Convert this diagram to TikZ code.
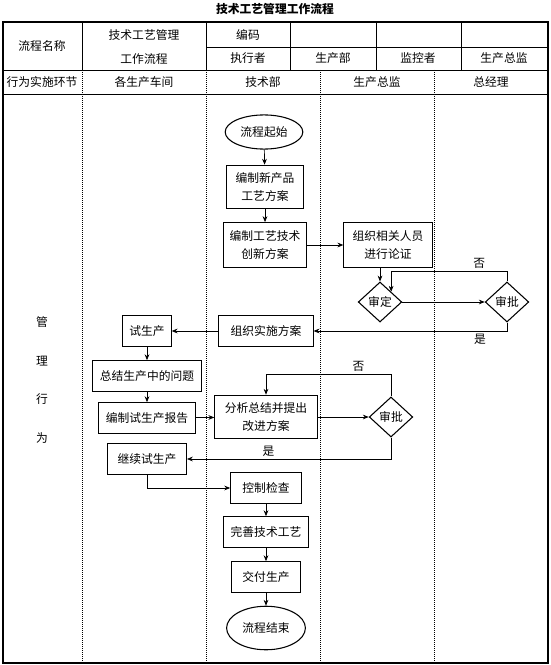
\documentclass[tikz,border=0pt]{standalone}
\usepackage{fontspec}
\setmainfont{Noto Sans CJK SC}
\usetikzlibrary{arrows.meta,shapes.geometric}

\begin{document}
\begin{tikzpicture}[
    x=0.85pt, y=-0.85pt,
    every node/.style={font=\fontsize{10}{16}\selectfont},
    proc/.style={draw, line width=0.9pt, rectangle, align=center, inner sep=2pt},
    term/.style={draw, line width=0.9pt, ellipse, align=center, inner sep=1pt},
    check/.style={draw, line width=0.9pt, diamond, align=center, inner sep=0pt, minimum width=37pt, minimum height=34pt},
    arrow/.style={-{Stealth[length=5pt,width=4pt]}, line width=0.6pt},
    lab/.style={inner sep=2pt},
    grid/.style={line width=0.5pt},
    lane/.style={densely dotted, line width=0.7pt}
  ]
    \useasboundingbox (0,0) rectangle (550,665);

    \node[font=\bfseries\fontsize{10}{12}\selectfont] (title) at (275,9) {技术工艺管理工作流程};

    \draw[line width=1.1pt] (3,22) rectangle (548,663);
    \draw[grid] (3,70) -- (548,70);
    \draw[grid] (3,94) -- (548,94);
    \draw[grid] (206,47) -- (548,47);
    \foreach \x in {82,206,290,376,461} \draw[grid] (\x,22) -- (\x,70);
    \foreach \x in {82,206,320,434} \draw[lane] (\x,70) -- (\x,663);

    \node (hname) at (42,46) {流程名称};
    \node[align=center, font=\fontsize{10}{21}\selectfont] (hflow) at (144,47) {技术工艺管理\\工作流程};
    \node (hcode) at (248,35) {编码};
    \node (hexec) at (248,58) {执行者};
    \node (hdept) at (333,58) {生产部};
    \node (hmon) at (418,58) {监控者};
    \node (hdir) at (504,58) {生产总监};
    \node (rstep) at (42,82) {行为实施环节};
    \node (rshop) at (144,82) {各生产车间};
    \node (rtech) at (263,82) {技术部};
    \node (rdir) at (377,82) {生产总监};
    \node (rgm) at (491,82) {总经理};
    \node[align=center, font=\fontsize{10}{33}\selectfont] (glxw) at (42,380) {管\\理\\行\\为};

    \node[term, minimum width=66pt, minimum height=29pt] (start) at (264,132) {流程起始};
    \node[proc, minimum width=66pt, minimum height=37pt] (xcp) at (265,187) {编制新产品\\工艺方案};
    \node[proc, minimum width=71pt, minimum height=38pt] (cxfa) at (265,245) {编制工艺技术\\创新方案};
    \node[proc, minimum width=75pt, minimum height=39pt] (lz) at (388,245) {组织相关人员\\进行论证};
    \node[check] (sd) at (380,302) {审定};
    \node[check] (sp1) at (507,302) {审批};
    \node[proc, minimum width=80pt, minimum height=26pt] (ssfa) at (266,331) {组织实施方案};
    \node[proc, minimum width=41pt, minimum height=26pt] (ssc) at (147,331) {试生产};
    \node[proc, minimum width=92pt, minimum height=26pt] (zjwt) at (147,376) {总结生产中的问题};
    \node[proc, minimum width=82pt, minimum height=26pt] (bgao) at (147,418) {编制试生产报告};
    \node[proc, minimum width=87pt, minimum height=37pt] (fxgj) at (266,417) {分析总结并提出\\改进方案};
    \node[check] (sp2) at (391,417) {审批};
    \node[proc, minimum width=67pt, minimum height=26pt] (jxsc) at (147,459) {继续试生产};
    \node[proc, minimum width=60pt, minimum height=26pt] (kzjc) at (266,488) {控制检查};
    \node[proc, minimum width=73pt, minimum height=26pt] (wsgy) at (266,532) {完善技术工艺};
    \node[proc, minimum width=59pt, minimum height=26pt] (jfsc) at (266,577) {交付生产};
    \node[term, minimum width=67pt, minimum height=37pt] (end) at (266,628) {流程结束};

    \draw[arrow] (start) -- (xcp);
    \draw[arrow] (xcp) -- (cxfa);
    \draw[arrow] (cxfa) -- (lz);
    \draw[arrow] (sd.north |- lz.south) -- (sd.north);
    \draw[arrow] (sd) -- (sp1);
    \draw[arrow] (sp1.north) -- ++(0,-10) -| node[lab, pos=0.12, above]{否} (sd.north east);
    \draw[arrow] (sp1.south) |- node[lab, pos=0.57, below]{是} (ssfa.east);
    \draw[arrow] (ssfa) -- (ssc);
    \draw[arrow] (ssc) -- (zjwt);
    \draw[arrow] (zjwt) -- (bgao);
    \draw[arrow] (bgao) -- (fxgj);
    \draw[arrow] (fxgj) -- (sp2);
    \draw[arrow] (sp2.north) -- ++(0,-22) -| node[lab, pos=0.13, above]{否} (fxgj.north);
    \draw[arrow] (sp2.south) |- node[lab, pos=0.8, above]{是} (jxsc.east);
    \draw[arrow] (jxsc.south) |- (kzjc.west);
    \draw[arrow] (kzjc) -- (wsgy);
    \draw[arrow] (wsgy) -- (jfsc);
    \draw[arrow] (jfsc) -- (end);
  \end{tikzpicture}
\end{document}
